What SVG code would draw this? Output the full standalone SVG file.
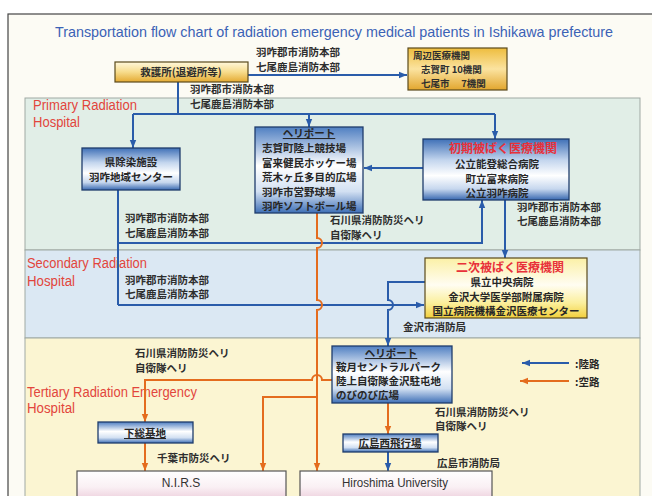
<svg xmlns="http://www.w3.org/2000/svg" width="652" height="496" viewBox="0 0 652 496">
<defs>
<style>
.jp{font-family:"Noto Sans CJK JP","Noto Sans CJK SC",sans-serif;font-size:10.5px;fill:#2e2e2e;font-weight:bold}
.bx{font-family:"Noto Sans CJK JP","Noto Sans CJK SC",sans-serif;font-size:10.5px;fill:#262626;font-weight:bold}
.sm{font-family:"Noto Sans CJK JP","Noto Sans CJK SC",sans-serif;font-size:9.5px;fill:#2e2e2e;font-weight:bold}
.red{font-family:"Noto Sans CJK JP","Noto Sans CJK SC",sans-serif;font-size:12px;fill:#e8313a;font-weight:bold}
.en{font-family:"Liberation Sans Narrow","Liberation Sans",Arial,sans-serif;font-size:14px;fill:#e2453c}
.lb{stroke:#2a5caa;stroke-width:2;fill:none}
.lo{stroke:#e46c1e;stroke-width:2;fill:none}
.bb{stroke:#1f3c6c;stroke-width:1.3}
.gb{stroke:#5a4a1c;stroke-width:1.2}
.pb{stroke:#555;stroke-width:1.2;fill:url(#gPink)}
.u{text-decoration:underline}
</style>
<linearGradient id="gBlue" x1="0" y1="0" x2="0" y2="1">
<stop offset="0" stop-color="#3f70b7"/><stop offset="0.35" stop-color="#c4d6ee"/><stop offset="0.6" stop-color="#ffffff"/><stop offset="0.82" stop-color="#c6d7ee"/><stop offset="1" stop-color="#3868b0"/>
</linearGradient>
<linearGradient id="gBlue2" x1="0" y1="0" x2="0" y2="1">
<stop offset="0" stop-color="#4f7fc2"/><stop offset="0.45" stop-color="#ffffff"/><stop offset="0.75" stop-color="#d2e0f2"/><stop offset="1" stop-color="#3e6fb6"/>
</linearGradient>
<linearGradient id="gGold" x1="0" y1="0" x2="0" y2="1">
<stop offset="0" stop-color="#fff8dc"/><stop offset="0.5" stop-color="#f7dc8c"/><stop offset="1" stop-color="#e4aa32"/>
</linearGradient>
<linearGradient id="gGold2" x1="0" y1="0" x2="0" y2="1">
<stop offset="0" stop-color="#eebd3e"/><stop offset="0.5" stop-color="#fbe3a0"/><stop offset="1" stop-color="#e2a62e"/>
</linearGradient>
<linearGradient id="gYel" x1="0" y1="0" x2="0" y2="1">
<stop offset="0" stop-color="#fbf0a6"/><stop offset="0.45" stop-color="#fffdf2"/><stop offset="0.75" stop-color="#fbef9c"/><stop offset="1" stop-color="#f2cf3c"/>
</linearGradient>
<linearGradient id="gPink" x1="0" y1="0" x2="0" y2="1">
<stop offset="0" stop-color="#ffffff"/><stop offset="0.5" stop-color="#faf0f4"/><stop offset="1" stop-color="#e9c6d6"/>
</linearGradient>
<marker id="ab" viewBox="0 0 10 10" refX="10" refY="5" markerWidth="8" markerHeight="8" markerUnits="userSpaceOnUse" orient="auto"><path d="M0,1 L10,5 L0,9 z" fill="#2a5caa"/></marker>
<marker id="ao" viewBox="0 0 10 10" refX="10" refY="5" markerWidth="8" markerHeight="8" markerUnits="userSpaceOnUse" orient="auto"><path d="M0,1 L10,5 L0,9 z" fill="#e46c1e"/></marker>
</defs>

<rect x="0" y="0" width="652" height="496" fill="#ffffff"/>
<rect x="8" y="14" width="650" height="490" fill="#fcfbf4" stroke="#444" stroke-width="1.2"/>

<g id="bands">
<rect x="25" y="98" width="615" height="152" fill="#e1eee7" stroke="#9fa9a3" stroke-width="1"/>
<rect x="25" y="250" width="615" height="88" fill="#dbe8f3" stroke="#9fa9a3" stroke-width="1"/>
<rect x="25" y="338" width="615" height="170" fill="#fbf5d2" stroke="#9fa9a3" stroke-width="1"/>
<text class="en" x="33" y="110" textLength="104" lengthAdjust="spacingAndGlyphs">Primary Radiation</text>
<text class="en" x="33" y="127" textLength="47" lengthAdjust="spacingAndGlyphs">Hospital</text>
<text class="en" x="27" y="268" textLength="120" lengthAdjust="spacingAndGlyphs">Secondary Radiation</text>
<text class="en" x="27" y="286" textLength="48" lengthAdjust="spacingAndGlyphs">Hospital</text>
<text class="en" x="27" y="397" textLength="170" lengthAdjust="spacingAndGlyphs">Tertiary Radiation Emergency</text>
<text class="en" x="27" y="413" textLength="48" lengthAdjust="spacingAndGlyphs">Hospital</text>
</g>

<text x="334" y="37" text-anchor="middle" font-family="Liberation Sans, Arial, sans-serif" font-size="15" fill="#3b62b6" textLength="558" lengthAdjust="spacingAndGlyphs">Transportation flow chart of radiation emergency medical patients in Ishikawa prefecture</text>

<g id="connectors">
<line class="lb" x1="248" y1="75" x2="407" y2="75" marker-end="url(#ab)"/>
<polyline class="lb" points="178,82 178,114"/>
<line class="lb" x1="133" y1="114" x2="495" y2="114"/>
<line class="lb" x1="133" y1="114" x2="133" y2="148" marker-end="url(#ab)"/>
<line class="lb" x1="309" y1="114" x2="309" y2="127" marker-end="url(#ab)"/>
<line class="lb" x1="495" y1="114" x2="495" y2="139" marker-end="url(#ab)"/>
<line class="lb" x1="423" y1="168" x2="364" y2="168" marker-end="url(#ab)"/>
<line class="lb" x1="118" y1="190" x2="118" y2="305"/>
<polyline class="lb" points="118,243 482,243 482,200" marker-end="url(#ab)"/>
<line class="lb" x1="118" y1="305" x2="424" y2="305" marker-end="url(#ab)"/>
<line class="lb" x1="505" y1="200" x2="505" y2="258" marker-end="url(#ab)"/>
<path class="lb" d="M425,282 L388,282 L388,300 A5 5 0 0 1 388,310 L388,346" marker-end="url(#ab)"/>
<line class="lb" x1="388" y1="452" x2="388" y2="471" marker-end="url(#ab)"/>
<path class="lo" d="M317,213 L317,238 A5 5 0 0 1 317,248 L317,300 A5 5 0 0 1 317,310 L317,471" marker-end="url(#ao)"/>
<polyline class="lo" points="317,397 263,397 263,471" marker-end="url(#ao)"/>
<path class="lo" d="M332,380 L322,380 A5 5 0 0 0 312,380 L145,380 L145,422" marker-end="url(#ao)"/>
<line class="lo" x1="145" y1="443" x2="145" y2="471" marker-end="url(#ao)"/>
<line class="lo" x1="388" y1="403" x2="388" y2="434" marker-end="url(#ao)"/>
</g>

<g id="n-kyugo">
<rect x="115" y="62" width="133" height="20" fill="url(#gGold)" class="gb"/>
<text class="jp" x="181" y="76" text-anchor="middle">救護所(退避所等)</text>
</g>

<g id="n-shuhen">
<rect x="408" y="48" width="99" height="42" fill="url(#gGold2)" class="gb"/>
<text class="sm" x="413" y="59">周辺医療機関</text>
<text class="sm" x="421" y="73">志賀町 10機関</text>
<text class="sm" x="421" y="87">七尾市　 7機関</text>
</g>

<g id="n-josen">
<rect x="82" y="148" width="98" height="42" fill="url(#gBlue)" class="bb"/>
<text class="bx" x="131" y="166" text-anchor="middle">県除染施設</text>
<text class="bx" x="131" y="181" text-anchor="middle">羽咋地域センター</text>
</g>

<g id="n-heli1">
<rect x="255" y="127" width="108" height="86" fill="url(#gBlue2)" class="bb"/>
<text class="bx u" x="309" y="137" text-anchor="middle">ヘリポート</text>
<text class="bx" x="262" y="152">志賀町陸上競技場</text>
<text class="bx" x="262" y="166.5">富来健民ホッケー場</text>
<text class="bx" x="262" y="181">荒木ヶ丘多目的広場</text>
<text class="bx" x="262" y="195.5">羽咋市営野球場</text>
<text class="bx" x="262" y="210">羽咋ソフトボール場</text>
</g>

<g id="n-shoki">
<rect x="423" y="139" width="146" height="61" fill="url(#gBlue)" class="bb"/>
<text class="red" x="503" y="153" text-anchor="middle">初期被ばく医療機関</text>
<text class="bx" x="497" y="168" text-anchor="middle">公立能登総合病院</text>
<text class="bx" x="497" y="183" text-anchor="middle">町立富来病院</text>
<text class="bx" x="497" y="197" text-anchor="middle">公立羽咋病院</text>
</g>

<g id="n-niji">
<rect x="425" y="258" width="162" height="60" fill="url(#gYel)" class="gb"/>
<text class="red" x="510" y="272" text-anchor="middle">二次被ばく医療機関</text>
<text class="bx" x="502" y="286" text-anchor="middle">県立中央病院</text>
<text class="bx" x="506" y="301" text-anchor="middle">金沢大学医学部附属病院</text>
<text class="bx" x="506" y="315" text-anchor="middle">国立病院機構金沢医療センター</text>
</g>

<g id="n-heli2">
<rect x="332" y="346" width="120" height="57" fill="url(#gBlue2)" class="bb"/>
<text class="bx u" x="391" y="357" text-anchor="middle">ヘリポート</text>
<text class="bx" x="336" y="371">鞍月セントラルパーク</text>
<text class="bx" x="336" y="385">陸上自衛隊金沢駐屯地</text>
<text class="bx" x="336" y="399">のびのび広場</text>
</g>

<g id="n-shimofusa">
<rect x="98" y="422" width="95" height="21" fill="url(#gBlue2)" class="bb"/>
<text class="bx u" x="145" y="437" text-anchor="middle">下総基地</text>
</g>

<g id="n-hiroshimanishi">
<rect x="343" y="434" width="95" height="18" fill="url(#gBlue2)" class="bb"/>
<text class="bx u" x="390" y="447" text-anchor="middle">広島西飛行場</text>
</g>

<g id="n-nirs">
<rect x="77" y="471" width="209" height="32" class="pb"/>
<text x="181" y="487" text-anchor="middle" font-family="Liberation Sans, Arial, sans-serif" font-size="12" fill="#333">N.I.R.S</text>
</g>

<g id="n-hiroshima">
<rect x="300" y="471" width="192" height="32" class="pb"/>
<text x="395" y="487" text-anchor="middle" font-family="Liberation Sans, Arial, sans-serif" font-size="12" fill="#333" textLength="106" lengthAdjust="spacingAndGlyphs">Hiroshima University</text>
</g>

<g id="labels">
<text class="jp" x="256" y="56">羽咋郡市消防本部</text>
<text class="jp" x="256" y="71">七尾鹿島消防本部</text>
<text class="jp" x="190" y="93">羽咋郡市消防本部</text>
<text class="jp" x="190" y="108">七尾鹿島消防本部</text>
<text class="jp" x="125" y="222">羽咋郡市消防本部</text>
<text class="jp" x="125" y="237">七尾鹿島消防本部</text>
<text class="jp" x="330" y="224">石川県消防防災ヘリ</text>
<text class="jp" x="330" y="239">自衛隊ヘリ</text>
<text class="jp" x="517" y="211">羽咋郡市消防本部</text>
<text class="jp" x="517" y="225">七尾鹿島消防本部</text>
<text class="jp" x="125" y="284">羽咋郡市消防本部</text>
<text class="jp" x="125" y="298">七尾鹿島消防本部</text>
<text class="jp" x="403" y="331">金沢市消防局</text>
<text class="jp" x="135" y="357">石川県消防防災ヘリ</text>
<text class="jp" x="135" y="372">自衛隊ヘリ</text>
<text class="jp" x="435" y="416">石川県消防防災ヘリ</text>
<text class="jp" x="435" y="430">自衛隊ヘリ</text>
<text class="jp" x="157" y="462">千葉市防災ヘリ</text>
<text class="jp" x="437" y="467">広島市消防局</text>
</g>

<g id="legend">
<line class="lb" x1="569" y1="363" x2="522" y2="363" marker-end="url(#ab)"/>
<line class="lo" x1="569" y1="381" x2="520" y2="381" marker-end="url(#ao)"/>
<text class="bx" x="575" y="368" font-size="13">:陸路</text>
<text class="bx" x="575" y="386" font-size="13">:空路</text>
</g>
</svg>
